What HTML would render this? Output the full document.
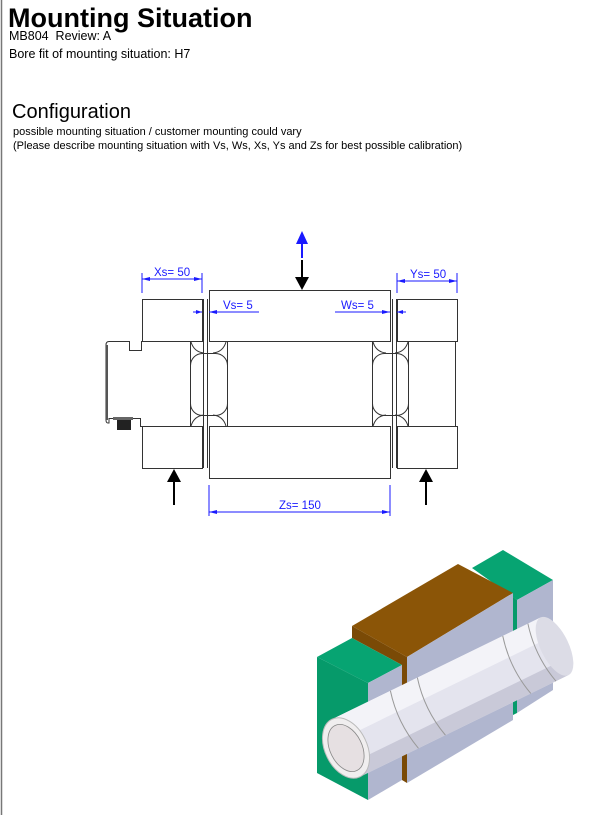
<!DOCTYPE html>
<html><head><meta charset="utf-8"><style>
html,body{margin:0;padding:0;background:#fff;}
body{width:601px;height:815px;position:relative;overflow:hidden;font-family:"Liberation Sans",sans-serif;}
</style></head><body>
<svg width="601" height="815" viewBox="0 0 601 815" xmlns="http://www.w3.org/2000/svg" style="position:absolute;left:0;top:0">
<line x1="1.5" y1="0" x2="1.5" y2="815" stroke="#777" stroke-width="1.5"/>
<text x="8" y="27" font-family="Liberation Sans,sans-serif" font-weight="bold" font-size="27">Mounting Situation</text>
<text x="9" y="40" font-family="Liberation Sans,sans-serif" font-size="12.5">MB804&#160; Review: A</text>
<text x="9" y="58" font-family="Liberation Sans,sans-serif" font-size="12.5">Bore fit of mounting situation: H7</text>
<text x="12" y="118" font-family="Liberation Sans,sans-serif" font-size="20">Configuration</text>
<text x="13" y="135" font-family="Liberation Sans,sans-serif" font-size="11">possible mounting situation / customer mounting could vary</text>
<text x="13" y="149" font-family="Liberation Sans,sans-serif" font-size="11">(Please describe mounting situation with Vs, Ws, Xs, Ys and Zs for best possible calibration)</text>

<g fill="none" stroke="#333" stroke-width="1">
<rect x="142.5" y="299.5" width="60" height="42"/>
<rect x="209.5" y="290.5" width="181" height="51"/>
<rect x="397.5" y="299.5" width="60" height="42"/>
<rect x="142.5" y="426.5" width="60" height="42"/>
<rect x="209.5" y="426.5" width="181" height="52"/>
<rect x="397.5" y="426.5" width="60" height="42"/>
<path d="M190.5 341.5 H141.5 V350.5 H129.5 V341.5 H109 Q106 341.5 106 345 V420 Q106 423 108 423 H109 V418.5 H140.5 V426.5 H190.5"/>
<line x1="190.5" y1="341.5" x2="190.5" y2="426.5"/>
<line x1="227.5" y1="341.5" x2="227.5" y2="426.5"/>
<line x1="227.5" y1="341.5" x2="372.5" y2="341.5"/>
<line x1="227.5" y1="426.5" x2="372.5" y2="426.5"/>
<line x1="372.5" y1="341.5" x2="372.5" y2="426.5"/>
<line x1="408.5" y1="341.5" x2="408.5" y2="426.5"/>
<line x1="408.5" y1="341.5" x2="456.5" y2="341.5"/>
<line x1="408.5" y1="426.5" x2="456.5" y2="426.5"/>
<line x1="455.5" y1="341.5" x2="455.5" y2="426.5"/>
<path d="M191 342 Q194 352 204 353 M226 342 Q223 352 213 353"/>
<rect x="190.5" y="353.5" width="37" height="62" rx="12"/>
<path d="M191 426 Q194 416 204 415 M226 426 Q223 416 213 415"/>
<path d="M373 342 Q376 352 386 353 M408 342 Q405 352 395 353"/>
<rect x="372.5" y="353.5" width="36" height="62" rx="12"/>
<path d="M373 426 Q376 416 386 415 M408 426 Q405 416 395 415"/>
<line x1="203.5" y1="299" x2="203.5" y2="468"/><line x1="207.5" y1="299" x2="207.5" y2="468"/>
<line x1="392.5" y1="299" x2="392.5" y2="468"/><line x1="396.5" y1="299" x2="396.5" y2="468"/>
</g>
<rect x="106" y="345" width="2" height="75" fill="#555"/>
<rect x="117" y="420" width="14" height="10" fill="#222"/>
<rect x="113" y="417" width="20" height="3" fill="#666"/>

<g stroke="#1a1aff" stroke-width="1" fill="none">
<line x1="142" y1="273" x2="142" y2="293"/><line x1="202" y1="273" x2="202" y2="293"/>
<line x1="142" y1="279" x2="202" y2="279"/>
<line x1="397" y1="273" x2="397" y2="293"/><line x1="457" y1="273" x2="457" y2="293"/>
<line x1="397" y1="281" x2="457" y2="281"/>
<line x1="209" y1="312" x2="259" y2="312"/><line x1="193" y1="312" x2="202" y2="312"/>
<line x1="335" y1="312" x2="390" y2="312"/><line x1="397" y1="312" x2="406" y2="312"/>
<line x1="209" y1="485" x2="209" y2="516"/><line x1="390" y1="485" x2="390" y2="516"/>
<line x1="209" y1="512" x2="390" y2="512"/>
</g>
<g fill="#1a1aff">
<path d="M142 279 l8 -2 v4z"/><path d="M202 279 l-8 -2 v4z"/>
<path d="M397 281 l8 -2 v4z"/><path d="M457 281 l-8 -2 v4z"/>
<path d="M209 312 l8 -2 v4z"/><path d="M202 312 l-6 -2 v4z"/>
<path d="M390 312 l-8 -2 v4z"/><path d="M397 312 l6 -2 v4z"/>
<path d="M209 512 l8 -2 v4z"/><path d="M390 512 l-8 -2 v4z"/>
<text x="154" y="276" font-family="Liberation Sans,sans-serif" font-size="11.5">Xs= 50</text>
<text x="410" y="278" font-family="Liberation Sans,sans-serif" font-size="11.5">Ys= 50</text>
<text x="223" y="309" font-family="Liberation Sans,sans-serif" font-size="11.5">Vs= 5</text>
<text x="341" y="309" font-family="Liberation Sans,sans-serif" font-size="11.5">Ws= 5</text>
<text x="279" y="509" font-family="Liberation Sans,sans-serif" font-size="11.5">Zs= 150</text>
</g>
<line x1="302" y1="243" x2="302" y2="258" stroke="#1a1aff" stroke-width="2"/>
<path d="M296 244 L302 231 L308 244Z" fill="#1a1aff"/>
<line x1="302" y1="260" x2="302" y2="278" stroke="#000" stroke-width="2"/>
<path d="M295 277 L302 290 L309 277Z" fill="#000"/>
<line x1="174" y1="480" x2="174" y2="505" stroke="#000" stroke-width="2"/>
<path d="M167 482 L174 469 L181 482Z" fill="#000"/>
<line x1="426" y1="480" x2="426" y2="505" stroke="#000" stroke-width="2"/>
<path d="M419 482 L426 469 L433 482Z" fill="#000"/>

<g stroke="none">
<polygon points="472,568 503,550 553,580 517,600" fill="#07a472"/>
<polygon points="517,600 553,580 553,690 517,713" fill="#b0b6cf"/>
<polygon points="513,597 517,600 517,713 513,715" fill="#069a6a"/>
<polygon points="352,626 458,564 513,593 407,657" fill="#8b5507"/>
<polygon points="352,626 407,657 407,783 402,780 402,665 352,638" fill="#7a4a06"/>
<polygon points="407,657 513,593 513,720 407,783" fill="#b0b6cf"/>
<polygon points="317,657 352,638 402,665 368,683" fill="#07a472"/>
<polygon points="317,657 368,683 368,800 317,773" fill="#069a6a"/>
<polygon points="368,683 402,665 402,780 368,800" fill="#b0b6cf"/>
</g>
<g transform="translate(346,748) rotate(-26)">
<rect x="0" y="-32" width="232" height="64" fill="#e4e4ee"/>
<rect x="0" y="-32" width="232" height="22" fill="#f3f3f8"/>
<rect x="0" y="16" width="232" height="16" fill="#c9c9d8"/>
<ellipse cx="232" cy="0" rx="14" ry="32" fill="#dcdce6"/>
<path d="M65 -32 Q57 0 65 32 M95 -32 Q87 0 95 32 M190 -32 Q182 0 190 32 M218 -32 Q210 0 218 32" stroke="#999" stroke-width="1" fill="none"/>
<ellipse cx="0" cy="0" rx="21" ry="32" fill="#f0eeef" stroke="#bbb"/>
<ellipse cx="0" cy="0" rx="16" ry="25" fill="#e6e0e2" stroke="#888" stroke-width="0.8"/>
</g>
</svg>
</body></html>
